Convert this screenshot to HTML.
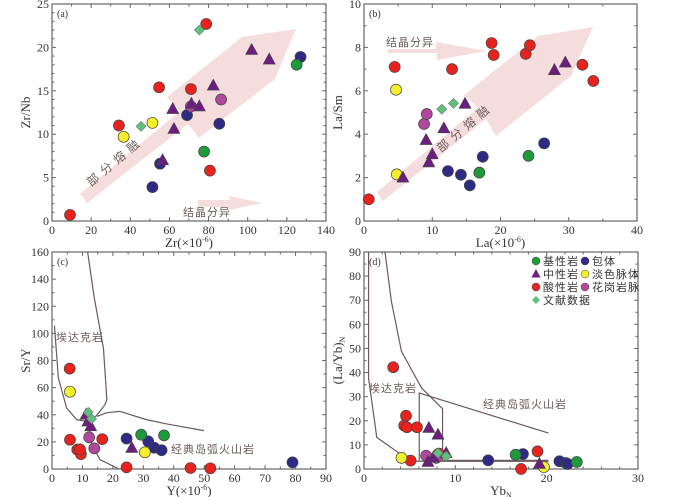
<!DOCTYPE html>
<html><head><meta charset="utf-8">
<style>
html,body{margin:0;padding:0;background:#fff;}
svg{display:block;font-family:"Liberation Serif","Noto Serif CJK SC",serif;}
.cn{font-family:"Liberation Sans","Noto Sans CJK SC",sans-serif;}
</style></head>
<body>
<svg id="chart" width="700" height="497" viewBox="0 0 700 497" xmlns="http://www.w3.org/2000/svg"></svg>
<script>
// ---- data ----
// panel a: Zr vs Zr/Nb
const aRed=[[9.2,0.7],[34.2,11.0],[54.7,15.4],[71,15.2],[78.8,22.7],[80.7,5.8]];
const aYellow=[[36.6,9.7],[51.3,11.3]];
const aDiamond=[[45.5,10.9],[75.3,22]];
const aGreen=[[77.7,8.0],[125,18.0]];
const aBlue=[[51.3,3.9],[55.2,6.6],[69,12.2],[85.5,11.2],[127,18.9]];
const aTri=[[56.5,7.0],[61.7,12.9],[62.3,10.6],[71.2,13.5],[75.3,13.2],[82.4,15.6],[102,19.7],[111,18.6]];
const aMag=[[71,13.2],[86.4,14.0]];
// panel b: La vs La/Sm
const bRed=[[0.7,1.0],[4.5,7.1],[12.9,7.0],[18.7,8.2],[19.0,7.65],[23.7,7.7],[24.3,8.1],[32,7.2],[33.6,6.45]];
const bYellow=[[4.7,6.05],[4.8,2.15]];
const bMag=[[8.8,4.47],[9.2,4.93]];
const bDiamond=[[11.4,5.15],[13.1,5.42]];
const bTri=[[5.7,2.0],[9.1,3.73],[9.5,2.7],[10.0,3.07],[11.7,4.27],[14.8,5.4],[27.9,6.95],[29.5,7.3]];
const bBlue=[[12.3,2.3],[14.2,2.13],[15.5,1.64],[17.4,2.96],[26.4,3.58]];
const bGreen=[[16.9,2.23],[24.1,3.0]];
// panel c: Y vs Sr/Y
const cRed=[[5.8,74],[5.9,21.6],[8.3,14.3],[9.5,11],[9.2,14.5],[16.5,22],[24.5,1.2],[45.5,0.7],[52,0.5]];
const cYellow=[[5.9,57],[30.5,12.3]];
const cDiamond=[[11.9,41.8],[13,37]];
const cTri=[[11.2,40],[11.8,35],[12.7,31.5],[26.2,15.5]];
const cMag=[[12.2,23.3],[13.9,15.2]];
const cBlue=[[24.5,22.4],[31.6,20.4],[33.6,15.7],[36,13.8],[79,4.9]];
const cGreen=[[29.3,25.3],[36.8,24.8]];
// panel d: YbN vs (La/Yb)N
const dRed=[[3.2,42.2],[4.6,22.1],[4.4,18],[4.7,17.3],[5.8,17.3],[5.1,3.5],[8.2,6.4],[19,7.3],[17.2,0]];
const dYellow=[[4.1,4.6],[19.7,0.8]];
const dTri=[[7.1,17],[8.1,14.2],[7,2.9],[9,6.6],[19.2,2.1],[7.6,4.8]];
const dDiamond=[[8.1,6.6],[9,5.3]];
const dMag=[[6.8,5.5],[7.9,4.6]];
const dBlue=[[13.6,3.6],[17.4,6.2],[21.4,3.2],[22.1,2.5],[22.3,2.1]];
const dGreen=[[16.6,5.9],[23.3,2.9]];
// boundary lines (data units)
const cLine1=[[11.7,160],[13.9,126],[16.9,89],[17.7,62],[18,51],[17.4,47.4],[14.7,39.6],[12,35]];
const cLine2=[[0.8,105.7],[2.1,67],[4.8,45],[8.1,36.4],[12,35],[13,18],[15.8,6.9],[21.8,0.2]];
const cLine3=[[14.7,38.8],[18,41.5],[22.3,42.5],[31,36.4],[37.7,33.2],[49.9,28.3]];
const dLine1=[[0.5,90],[0.5,37.7],[1.4,13.1],[4.1,5.9],[4.7,3.2],[20.2,3.2]];
const dLine2=[[2.3,90],[3,69.5],[4.1,48.8],[6.3,33.6],[8.6,25],[8.6,3.6],[20.2,3.6]];
const dLine3=[[6.05,3.4],[6.05,31.5],[20.2,14.9]];

const COL={red:'#e8231e',yellow:'#f3ef2a',green:'#1f9a3a',blue:'#2e2a86',tri:'#6a1f7e',mag:'#b2479e',dia:'#5ec07a'};
const svg=document.getElementById('chart');
const NS='http://www.w3.org/2000/svg';
function mk(tag,attrs,parent){const e=document.createElementNS(NS,tag);for(const k in attrs)e.setAttribute(k,attrs[k]);(parent||svg).appendChild(e);return e;}

function panel(p){
  const g=mk('g',{});
  
  
  const sx=v=>p.x0+(v-p.xmin)/(p.xmax-p.xmin)*(p.x1-p.x0);
  const sy=v=>p.y0-(v-p.ymin)/(p.ymax-p.ymin)*(p.y0-p.y1);
  const frame=mk('rect',{x:p.x0,y:p.y1,width:p.x1-p.x0,height:p.y0-p.y1,fill:'none',stroke:'#666','stroke-width':1.2},g);
  
  
  for(let v=p.xmin;v<=p.xmax+1e-9;v+=p.xminor){
    const big=Math.abs((v/p.xmajor)-Math.round(v/p.xmajor))<1e-6;const L=big?4:2.5;
    mk('line',{x1:sx(v),x2:sx(v),y1:p.y0,y2:p.y0-L,stroke:'#666'},g);
    mk('line',{x1:sx(v),x2:sx(v),y1:p.y1,y2:p.y1+L,stroke:'#666'},g);
  }
  for(let v=p.ymin;v<=p.ymax+1e-9;v+=p.yminor){
    const big=Math.abs((v/p.ymajor)-Math.round(v/p.ymajor))<1e-6;const L=big?4:2.5;
    mk('line',{x1:p.x0,x2:p.x0+L,y1:sy(v),y2:sy(v),stroke:'#666'},g);
    mk('line',{x1:p.x1,x2:p.x1-L,y1:sy(v),y2:sy(v),stroke:'#666'},g);
  }
  for(let v=p.xmin;v<=p.xmax+1e-9;v+=p.xmajor){
    const t=mk('text',{x:sx(v),y:p.y0+13,'font-size':12,'text-anchor':'middle',fill:'#333'},g);t.textContent=v;
    
    
  }
  for(let v=p.ymin;v<=p.ymax+1e-9;v+=p.ymajor){
    const t=mk('text',{x:p.x0-3,y:sy(v)+4,'font-size':12,'text-anchor':'end',fill:'#333'},g);t.textContent=v;
    
    
  }
  const pl=mk('text',{x:p.x0+5,y:p.y1+13,'font-size':10,fill:'#333'},g);pl.textContent=p.label;
  
  
  const xt=mk('text',{x:(p.x0+p.x1)/2,y:p.y0+26,'font-size':13,'text-anchor':'middle',fill:'#333'},g);xt.innerHTML=p.xtitle;
  
  
  const yt=mk('text',{x:0,y:0,'font-size':13,'text-anchor':'middle',fill:'#333',transform:`translate(${p.x0-22},${(p.y0+p.y1)/2}) rotate(-90)`},g);yt.innerHTML=p.ytitle;
  
  
  p.g=g;p.sx=sx;p.sy=sy;return p;
}
function line(p,pts,name){
  const l=mk('polyline',{points:pts.map(d=>p.sx(d[0])+','+p.sy(d[1])).join(' '),fill:'none',stroke:'#6b5a5a','stroke-width':1.2},p.g);
  
  
}
function pts(p,arr,kind,name){
  arr.forEach(d=>{
    const x=p.sx(d[0]),y=p.sy(d[1]);let e;
    if(kind==='tri'){e=mk('polygon',{points:`${x},${y-6.5} ${x+6},${y+4.5} ${x-6},${y+4.5}`,fill:COL.tri,stroke:'#444','stroke-width':0.6},p.g);}
    else if(kind==='dia'){e=mk('polygon',{points:`${x},${y-5} ${x+5},${y} ${x},${y+5} ${x-5},${y}`,fill:COL.dia,stroke:'#777','stroke-width':0.6},p.g);}
    else {e=mk('circle',{cx:x,cy:y,r:5.5,fill:COL[kind],stroke:'#444','stroke-width':0.7},p.g);}
    
    
  });
}
function txt(s,x,y,rot,size){
  const t=mk('text',{x:x,y:y,'font-size':size||11,fill:'#6b5a5a','text-anchor':'middle',class:'cn','letter-spacing':'1',transform:rot?`rotate(${rot},${x},${y})`:''});
  t.textContent=s;
  
  
}
function shape(points,name){
  const e=mk('polygon',{points:points,fill:'#f5d9d9',opacity:0.9});
  
  
}

shape('80,194 180,111 167,97 242,37 296,29 275,79 199,138 188,124 87,203','partial-melting-arrow-a');
shape('198,200 230,200 229,196 262,203 229,210 230,207 198,207','fractional-crystallization-arrow-a');
shape('377,192 478,108 464,95 538,36 593,27 571,76 496,136 486,119 383,201','partial-melting-arrow-b');
shape('388,49 436,49 436,42 487,51 437,60 437,53 388,53','fractional-crystallization-arrow-b');

const A=panel({name:'panel-a',label:'(a)',x0:52,x1:326,y0:221,y1:4,xmin:0,xmax:140,xmajor:20,xminor:10,ymin:0,ymax:25,ymajor:5,yminor:1,xtitle:'Zr(×10<tspan font-size="8" dy="-5">-6</tspan><tspan dy="5">)</tspan>',ytitle:'Zr/Nb'});
const B=panel({name:'panel-b',label:'(b)',x0:364,x1:637,y0:221,y1:4,xmin:0,xmax:40,xmajor:10,xminor:5,ymin:0,ymax:10,ymajor:2,yminor:1,xtitle:'La(×10<tspan font-size="8" dy="-5">-6</tspan><tspan dy="5">)</tspan>',ytitle:'La/Sm'});
const C=panel({name:'panel-c',label:'(c)',x0:52,x1:326,y0:469,y1:252,xmin:0,xmax:90,xmajor:10,xminor:5,ymin:0,ymax:160,ymajor:20,yminor:10,xtitle:'Y(×10<tspan font-size="8" dy="-5">-6</tspan><tspan dy="5">)</tspan>',ytitle:'Sr/Y'});
const D=panel({name:'panel-d',label:'(d)',x0:364,x1:638,y0:469,y1:252,xmin:0,xmax:30,xmajor:10,xminor:2,ymin:0,ymax:90,ymajor:10,yminor:5,xtitle:'Yb<tspan font-size="8" dy="3">N</tspan>',ytitle:'(La/Yb)<tspan font-size="8" dy="3">N</tspan>'});

txt('部 分 熔 融',116,166,-40,12);
txt('结晶分异',207,216,0,11);
txt('结晶分异',410,46,0,11);
txt('部 分 熔 融',466,132,-40,12);

line(C,cLine1,'adakite-boundary');line(C,cLine2,'adakite-boundary');line(C,cLine3,'island-arc-boundary');
line(D,dLine1,'adakite-boundary');line(D,dLine2,'adakite-boundary');line(D,dLine3,'island-arc-boundary');
txt('埃达克岩',80,341,0,11);txt('经典岛弧火山岩',213,453,0,11);
txt('埃达克岩',393,392,0,11);txt('经典岛弧火山岩',525,408,0,11);

[[A,aRed,aYellow,aDiamond,aGreen,aBlue,aTri,aMag],[B,bRed,bYellow,bDiamond,bGreen,bBlue,bTri,bMag],[C,cRed,cYellow,cDiamond,cGreen,cBlue,cTri,cMag],[D,dRed,dYellow,dDiamond,dGreen,dBlue,dTri,dMag]].forEach(s=>{
  const p=s[0];
  pts(p,s[5],'blue','inclusion-point');
  pts(p,s[4],'green','basic-rock-point');
  pts(p,s[1],'red','acidic-rock-point');
  pts(p,s[2],'yellow','leucocratic-vein-point');
  pts(p,s[7],'mag','granite-vein-point');
  pts(p,s[6],'tri','intermediate-rock-point');
  pts(p,s[3],'dia','literature-data-point');
});

const leg=[['green','基性岩',536,261],['blue','包体',585,261],['tri','中性岩',536,274],['yellow','淡色脉体',585,274],['red','酸性岩',536,287],['mag','花岗岩脉',585,287],['dia','文献数据',536,300]];
const lg=mk('g',{});


leg.forEach(l=>{
  const [k,s,x,y]=l;let e;
  if(k==='tri')e=mk('polygon',{points:`${x},${y-5} ${x+4.5},${y+3.5} ${x-4.5},${y+3.5}`,fill:COL.tri},lg);
  else if(k==='dia')e=mk('polygon',{points:`${x},${y-4} ${x+4},${y} ${x},${y+4} ${x-4},${y}`,fill:COL.dia},lg);
  else e=mk('circle',{cx:x,cy:y,r:4,fill:COL[k],stroke:'#444','stroke-width':0.5},lg);
  
  
  const t=mk('text',{x:x+7,y:y+4,'font-size':11,fill:'#333',class:'cn','letter-spacing':'1'},lg);t.textContent=s;
  
  
});
</script>
</body></html>
